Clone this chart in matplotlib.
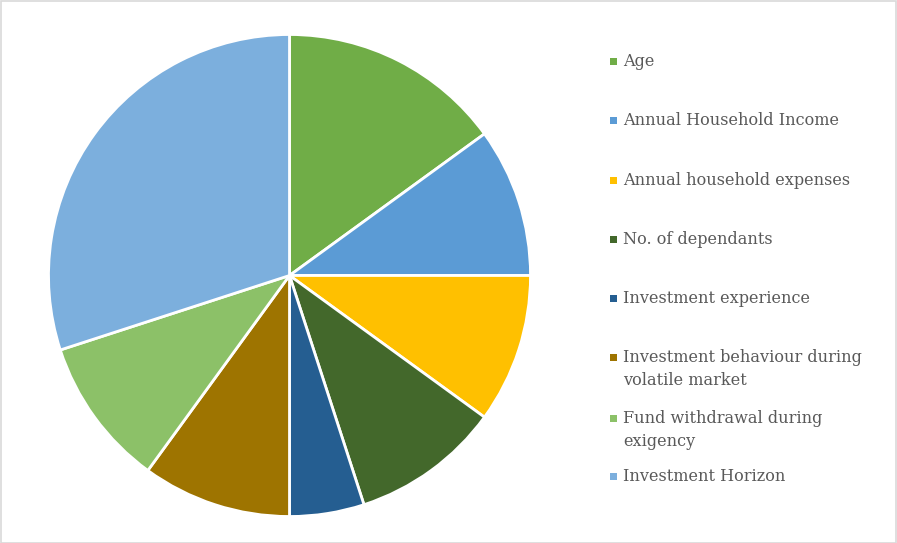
import matplotlib
matplotlib.use("Agg")
import matplotlib.pyplot as plt
from matplotlib.patches import Rectangle

labels = ["Age", "Annual Household Income", "Annual household expenses",
          "No. of dependants", "Investment experience",
          "Investment behaviour during\nvolatile market",
          "Fund withdrawal during\nexigency", "Investment Horizon"]
values = [15, 10, 10, 10, 5, 10, 10, 30]
colors = ["#70AD47", "#5B9BD5", "#FFC000", "#43682B", "#255E91",
          "#9E7400", "#8CC168", "#7CAFDD"]

W, H = 897, 543
fig = plt.figure(figsize=(W / 100, H / 100), dpi=100)
fig.patch.set_facecolor("white")

cx, cy, r = 289.5, 275.5, 241
ax = fig.add_axes([(cx - r) / W, (H - cy - r) / H, 2 * r / W, 2 * r / H])
ax.pie(values, colors=colors, startangle=90, counterclock=False,
       wedgeprops=dict(edgecolor="white", linewidth=2))
ax.set_xlim(-1.0, 1.0)
ax.set_ylim(-1.0, 1.0)
ax.set_aspect("equal")
ax.axis("off")

# border
fig.patches.append(Rectangle((0.5 / W, 0.5 / H), 1 - 1.5 / W, 1 - 1.5 / H,
                             transform=fig.transFigure, fill=False,
                             edgecolor="#D9D9D9", linewidth=1.2))

# legend
ys = [61, 120, 180, 239, 298, 357, 418, 476]
for lab, col, y in zip(labels, colors, ys):
    fig.patches.append(Rectangle((610 / W, (H - y - 3.5) / H), 7 / W, 7 / H,
                                 transform=fig.transFigure, facecolor=col,
                                 edgecolor="none"))
    for i, line in enumerate(lab.split("\n")):
        fig.text(623 / W, (H - (y + 5 + 23 * i)) / H, line, fontsize=11.6,
                 family="DejaVu Serif", color="#595959", va="baseline",
                 ha="left", transform=fig.transFigure)

fig.savefig("out.png", dpi=100)
